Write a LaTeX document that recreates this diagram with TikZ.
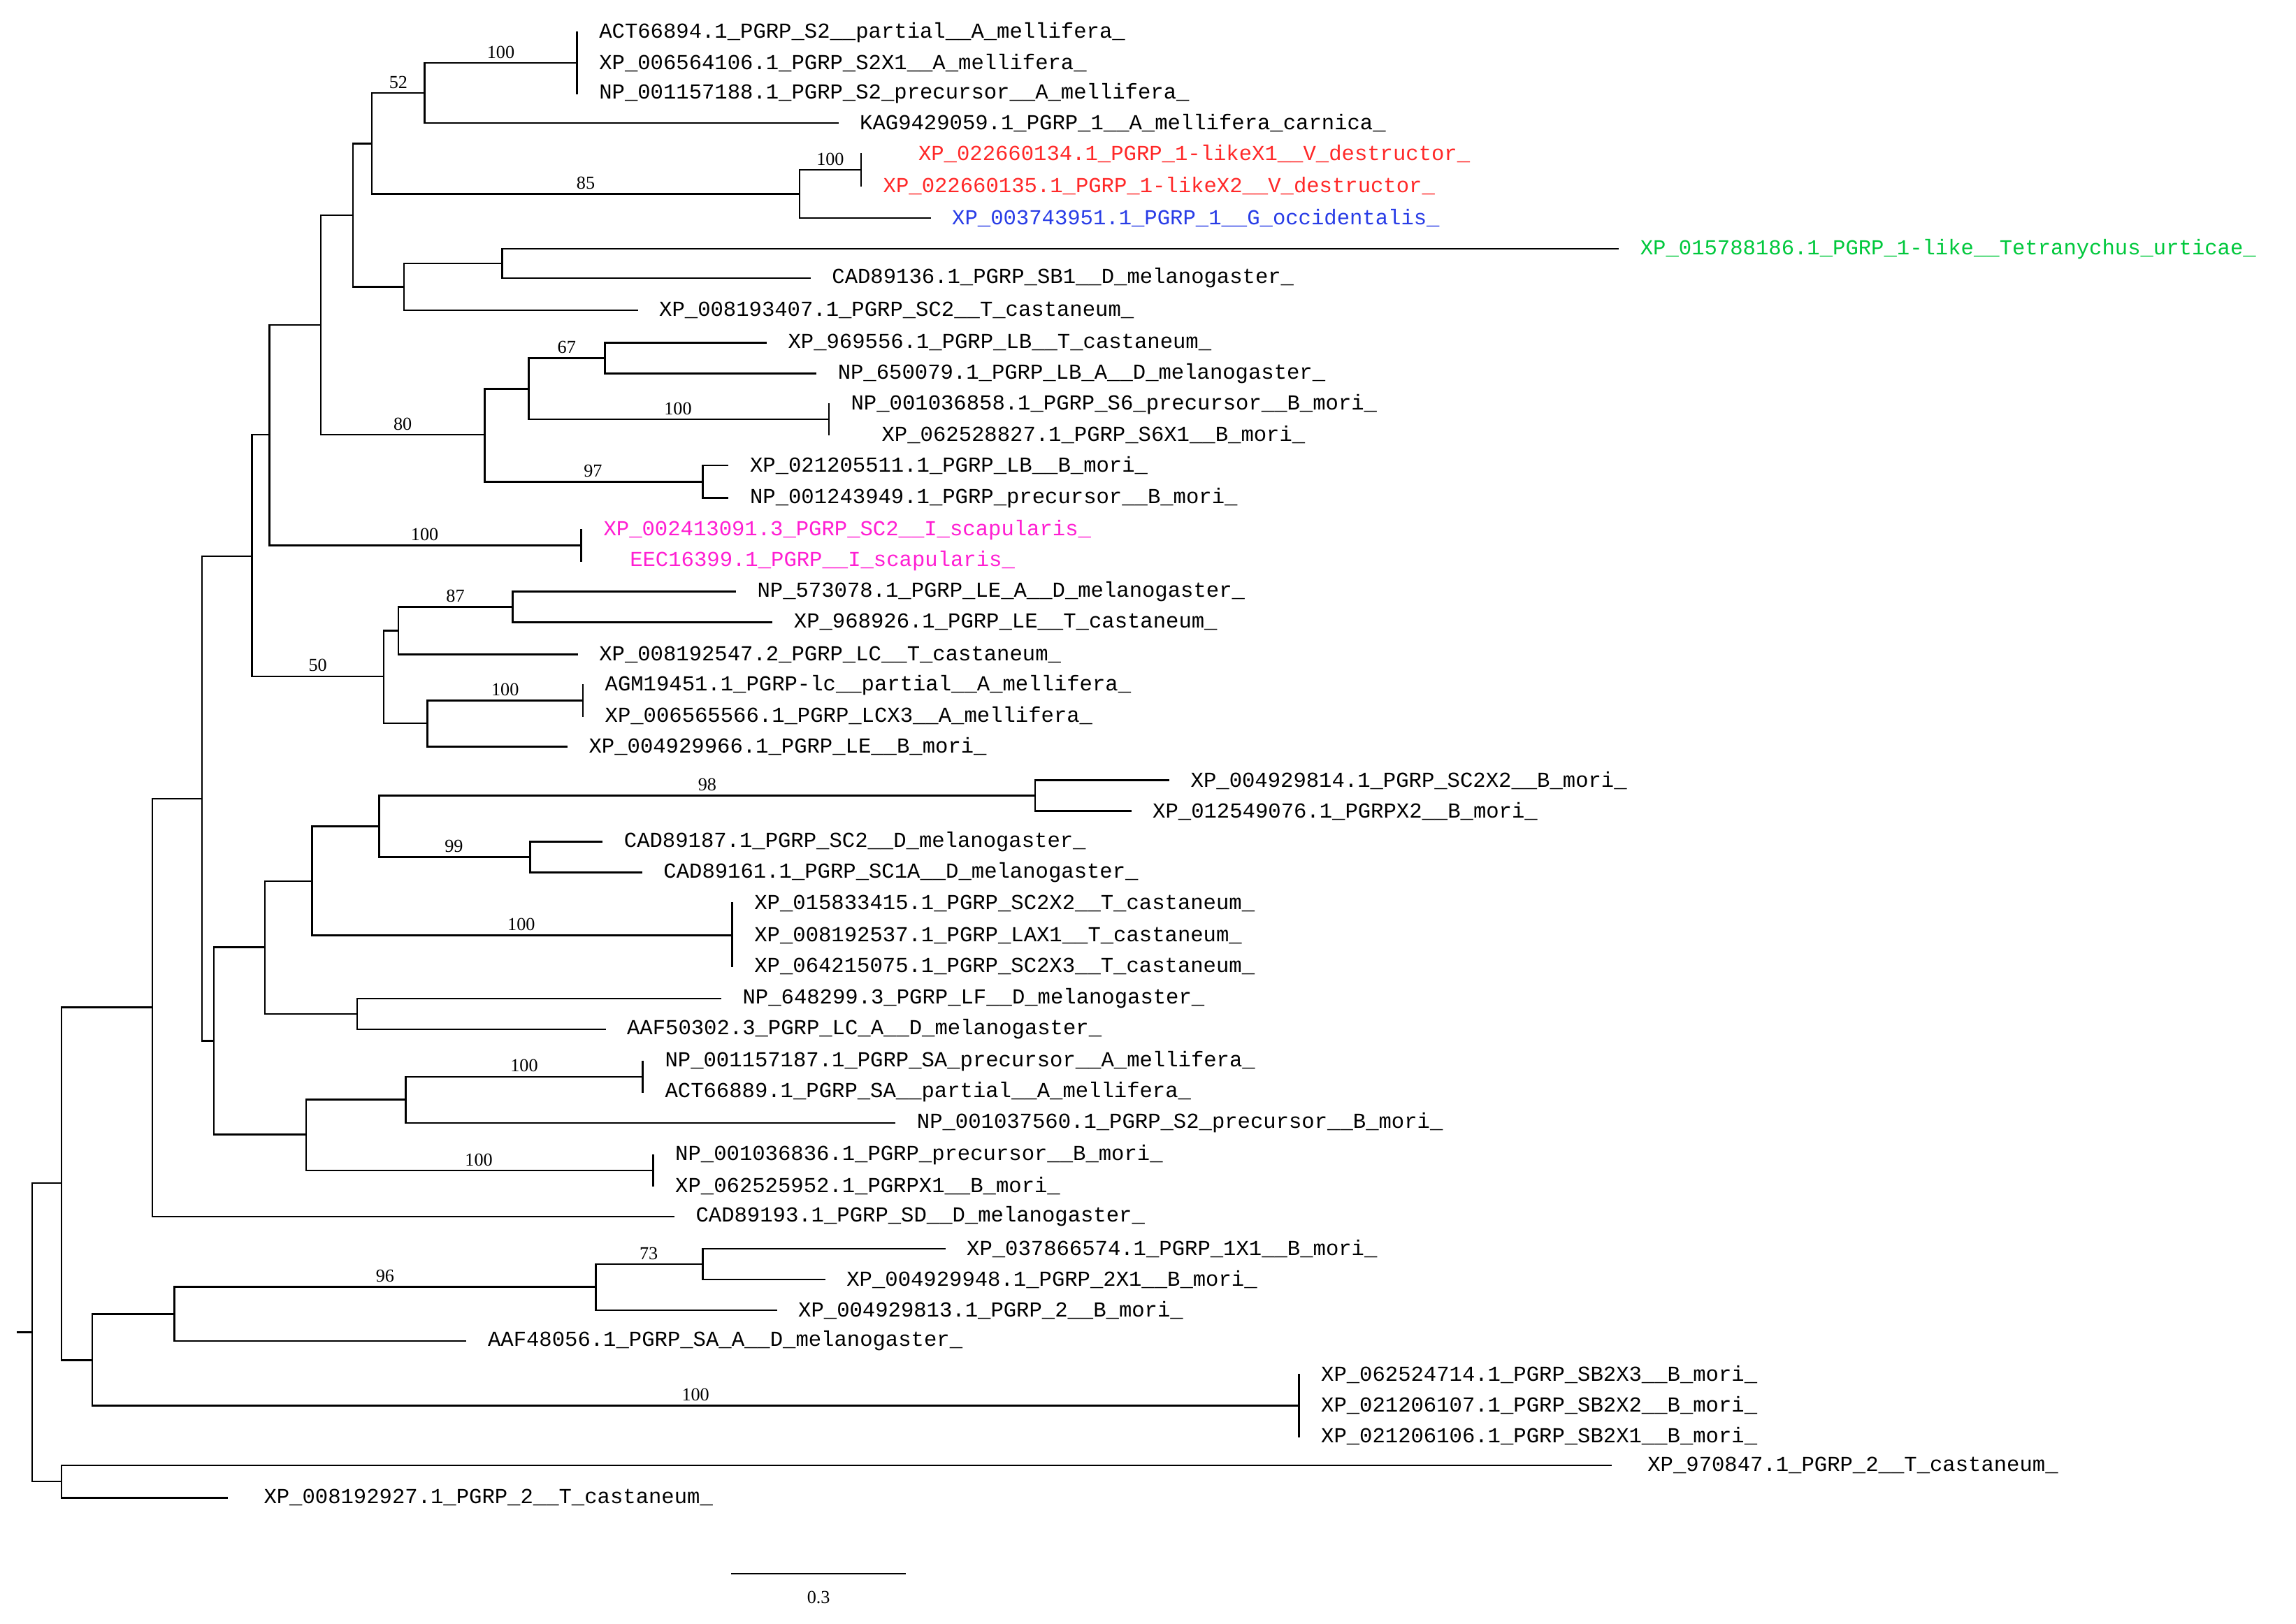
\documentclass[tikz,border=0pt]{standalone}
\usepackage{fontspec}
\setmainfont{Liberation Serif}
\newfontfamily\leaffont{Liberation Mono}
\definecolor{tred}{RGB}{255,40,40}
\definecolor{tblue}{RGB}{40,60,230}
\definecolor{tgreen}{RGB}{0,200,60}
\definecolor{tmag}{RGB}{255,30,210}
\newcommand\lf[5]{\coordinate (#1) at (#2,#3); \node[leaf,#4] (#1t) at (#1) {#5};}
\newcommand\br[2]{\foreach \c in {#2} {\draw[branch] (#1) |- (\c);}}
\begin{document}
\begin{tikzpicture}[x=1pt,y=-1pt,
  leaf/.style={anchor=west,inner sep=0pt,xshift=15pt,font=\leaffont\fontsize{14.6}{16}\selectfont},
  branch/.style={line width=1.2pt,line cap=rect},
  bs/.style={anchor=south,inner sep=0pt,yshift=3pt,font=\fontsize{12.5}{14}\selectfont}]
\useasboundingbox (0,0) rectangle (1568,1109);
% leaves
\lf{L1}{394}{22}{}{ACT66894.1\_PGRP\_S2\_\_partial\_\_A\_mellifera\_}
\lf{L2}{394}{43}{}{XP\_006564106.1\_PGRP\_S2X1\_\_A\_mellifera\_}
\lf{L3}{394}{64}{}{NP\_001157188.1\_PGRP\_S2\_precursor\_\_A\_mellifera\_}
\lf{L4}{572}{84}{}{KAG9429059.1\_PGRP\_1\_\_A\_mellifera\_carnica\_}
\lf{L5}{588}{105}{tred,xshift=24pt}{XP\_022660134.1\_PGRP\_1-likeX1\_\_V\_destructor\_}
\lf{L6}{588}{127}{tred}{XP\_022660135.1\_PGRP\_1-likeX2\_\_V\_destructor\_}
\lf{L7}{635}{149}{tblue}{XP\_003743951.1\_PGRP\_1\_\_G\_occidentalis\_}
\lf{L8}{1105}{170}{tgreen}{XP\_015788186.1\_PGRP\_1-like\_\_Tetranychus\_urticae\_}
\lf{L9}{553}{190}{}{CAD89136.1\_PGRP\_SB1\_\_D\_melanogaster\_}
\lf{L10}{435}{212}{}{XP\_008193407.1\_PGRP\_SC2\_\_T\_castaneum\_}
\lf{L11}{523}{234}{}{XP\_969556.1\_PGRP\_LB\_\_T\_castaneum\_}
\lf{L12}{557}{255}{}{NP\_650079.1\_PGRP\_LB\_A\_\_D\_melanogaster\_}
\lf{L13}{566}{276}{}{NP\_001036858.1\_PGRP\_S6\_precursor\_\_B\_mori\_}
\lf{L14}{566}{297}{xshift=21pt}{XP\_062528827.1\_PGRP\_S6X1\_\_B\_mori\_}
\lf{L15}{497}{318}{}{XP\_021205511.1\_PGRP\_LB\_\_B\_mori\_}
\lf{L16}{497}{340}{}{NP\_001243949.1\_PGRP\_precursor\_\_B\_mori\_}
\lf{L17}{397}{362}{tmag}{XP\_002413091.3\_PGRP\_SC2\_\_I\_scapularis\_}
\lf{L18}{397}{383}{tmag,xshift=18pt}{EEC16399.1\_PGRP\_\_I\_scapularis\_}
\lf{L19}{502}{404}{}{NP\_573078.1\_PGRP\_LE\_A\_\_D\_melanogaster\_}
\lf{L20}{527}{425}{}{XP\_968926.1\_PGRP\_LE\_\_T\_castaneum\_}
\lf{L21}{394}{447}{}{XP\_008192547.2\_PGRP\_LC\_\_T\_castaneum\_}
\lf{L22}{398}{468}{}{AGM19451.1\_PGRP-lc\_\_partial\_\_A\_mellifera\_}
\lf{L23}{398}{489}{}{XP\_006565566.1\_PGRP\_LCX3\_\_A\_mellifera\_}
\lf{L24}{387}{510}{}{XP\_004929966.1\_PGRP\_LE\_\_B\_mori\_}
\lf{L25}{798}{533}{}{XP\_004929814.1\_PGRP\_SC2X2\_\_B\_mori\_}
\lf{L26}{772}{554}{}{XP\_012549076.1\_PGRPX2\_\_B\_mori\_}
\lf{L27}{411}{575}{}{CAD89187.1\_PGRP\_SC2\_\_D\_melanogaster\_}
\lf{L28}{438}{596}{}{CAD89161.1\_PGRP\_SC1A\_\_D\_melanogaster\_}
\lf{L29}{500}{617}{}{XP\_015833415.1\_PGRP\_SC2X2\_\_T\_castaneum\_}
\lf{L30}{500}{639}{}{XP\_008192537.1\_PGRP\_LAX1\_\_T\_castaneum\_}
\lf{L31}{500}{660}{}{XP\_064215075.1\_PGRP\_SC2X3\_\_T\_castaneum\_}
\lf{L32}{492}{682}{}{NP\_648299.3\_PGRP\_LF\_\_D\_melanogaster\_}
\lf{L33}{413}{703}{}{AAF50302.3\_PGRP\_LC\_A\_\_D\_melanogaster\_}
\lf{L34}{439}{725}{}{NP\_001157187.1\_PGRP\_SA\_precursor\_\_A\_mellifera\_}
\lf{L35}{439}{746}{}{ACT66889.1\_PGRP\_SA\_\_partial\_\_A\_mellifera\_}
\lf{L36}{611}{767}{}{NP\_001037560.1\_PGRP\_S2\_precursor\_\_B\_mori\_}
\lf{L37}{446}{789}{}{NP\_001036836.1\_PGRP\_precursor\_\_B\_mori\_}
\lf{L38}{446}{810}{}{XP\_062525952.1\_PGRPX1\_\_B\_mori\_}
\lf{L39}{460}{831}{}{CAD89193.1\_PGRP\_SD\_\_D\_melanogaster\_}
\lf{L40}{645}{853}{}{XP\_037866574.1\_PGRP\_1X1\_\_B\_mori\_}
\lf{L41}{563}{874}{}{XP\_004929948.1\_PGRP\_2X1\_\_B\_mori\_}
\lf{L42}{530}{895}{}{XP\_004929813.1\_PGRP\_2\_\_B\_mori\_}
\lf{L43}{318}{916}{}{AAF48056.1\_PGRP\_SA\_A\_\_D\_melanogaster\_}
\lf{L44}{887}{939}{}{XP\_062524714.1\_PGRP\_SB2X3\_\_B\_mori\_}
\lf{L45}{887}{960}{}{XP\_021206107.1\_PGRP\_SB2X2\_\_B\_mori\_}
\lf{L46}{887}{981}{}{XP\_021206106.1\_PGRP\_SB2X1\_\_B\_mori\_}
\lf{L47}{1100}{1001}{xshift=10pt}{XP\_970847.1\_PGRP\_2\_\_T\_castaneum\_}
\lf{L48}{155}{1023}{xshift=10pt}{XP\_008192927.1\_PGRP\_2\_\_T\_castaneum\_}
% internal nodes
\coordinate (T1) at (394,43);
\coordinate (N18) at (290,63.5);
\coordinate (P1) at (588,116);
\coordinate (N19) at (546,132.5);
\coordinate (N16) at (254,98);
\coordinate (N20) at (343,180);
\coordinate (N17) at (276,196);
\coordinate (N14) at (241,147);
\coordinate (N23) at (413,244.5);
\coordinate (P2) at (566,286.5);
\coordinate (N21) at (361,265.5);
\coordinate (N22) at (480,329);
\coordinate (N15) at (331,297);
\coordinate (N13) at (219,222);
\coordinate (P3) at (397,372.5);
\coordinate (N12) at (184,297);
\coordinate (N26) at (350,414.5);
\coordinate (N24) at (272,430.75);
\coordinate (P4) at (398,478.5);
\coordinate (N25) at (292,494);
\coordinate (N11) at (262,462);
\coordinate (N10) at (172,380);
\coordinate (N33) at (707,543.5);
\coordinate (N34) at (362,585.5);
\coordinate (N32) at (259,564.5);
\coordinate (T2) at (500,639);
\coordinate (N30) at (213,602);
\coordinate (N31) at (244,692.5);
\coordinate (N28) at (181,647);
\coordinate (P5) at (439,735.5);
\coordinate (N35) at (277,751);
\coordinate (P6) at (446,799.5);
\coordinate (N29) at (209,775);
\coordinate (N27) at (146,711);
\coordinate (N9) at (138,545.5);
\coordinate (N3) at (104,688);
\coordinate (N8) at (480,863.5);
\coordinate (N7) at (407,879);
\coordinate (N5) at (119,897.5);
\coordinate (T3) at (887,960);
\coordinate (N4) at (63,929);
\coordinate (N1) at (42,808);
\coordinate (N2) at (42,1012);
\coordinate (R) at (22,910);
\coordinate (R0) at (12,910);
% branches
\br{T1}{L1,L2,L3}
\br{N18}{T1,L4}
\br{P1}{L5,L6}
\br{N19}{P1,L7}
\br{N16}{N18,N19}
\br{N20}{L8,L9}
\br{N17}{N20,L10}
\br{N14}{N16,N17}
\br{N23}{L11,L12}
\br{P2}{L13,L14}
\br{N21}{N23,P2}
\br{N22}{L15,L16}
\br{N15}{N21,N22}
\br{N13}{N14,N15}
\br{P3}{L17,L18}
\br{N12}{N13,P3}
\br{N26}{L19,L20}
\br{N24}{N26,L21}
\br{P4}{L22,L23}
\br{N25}{P4,L24}
\br{N11}{N24,N25}
\br{N10}{N12,N11}
\br{N33}{L25,L26}
\br{N34}{L27,L28}
\br{N32}{N33,N34}
\br{T2}{L29,L30,L31}
\br{N30}{N32,T2}
\br{N31}{L32,L33}
\br{N28}{N30,N31}
\br{P5}{L34,L35}
\br{N35}{P5,L36}
\br{P6}{L37,L38}
\br{N29}{N35,P6}
\br{N27}{N28,N29}
\br{N9}{N10,N27}
\br{N3}{N9,L39}
\br{N8}{L40,L41}
\br{N7}{N8,L42}
\br{N5}{N7,L43}
\br{T3}{L44,L45,L46}
\br{N4}{N5,T3}
\br{N1}{N3,N4}
\br{N2}{L47,L48}
\br{R}{N1,N2}
\draw[branch] (R0) -- (R);
% support values
\node[bs] (s1) at (342,43) {100};
\node[bs] (s2) at (272,63.5) {52};
\node[bs] (s3) at (567,116) {100};
\node[bs] (s4) at (400,132.5) {85};
\node[bs] (s5) at (387,244.5) {67};
\node[bs] (s6) at (463,286.5) {100};
\node[bs] (s7) at (405,329) {97};
\node[bs] (s8) at (275,297) {80};
\node[bs] (s9) at (290,372.5) {100};
\node[bs] (s10) at (311,414.5) {87};
\node[bs] (s11) at (345,478.5) {100};
\node[bs] (s12) at (217,462) {50};
\node[bs] (s13) at (483,543.5) {98};
\node[bs] (s14) at (310,585.5) {99};
\node[bs] (s15) at (356,639) {100};
\node[bs] (s16) at (358,735.5) {100};
\node[bs] (s17) at (327,799.5) {100};
\node[bs] (s18) at (443,863.5) {73};
\node[bs] (s19) at (263,879) {96};
\node[bs] (s20) at (475,960) {100};
% scale bar
\coordinate (sb1) at (500,1075);
\coordinate (sb2) at (618,1075);
\draw[branch] (sb1) -- (sb2);
\node[font=\fontsize{12.5}{14}\selectfont] (sbl) at (559,1091) {0.3};
\end{tikzpicture}
\end{document}
